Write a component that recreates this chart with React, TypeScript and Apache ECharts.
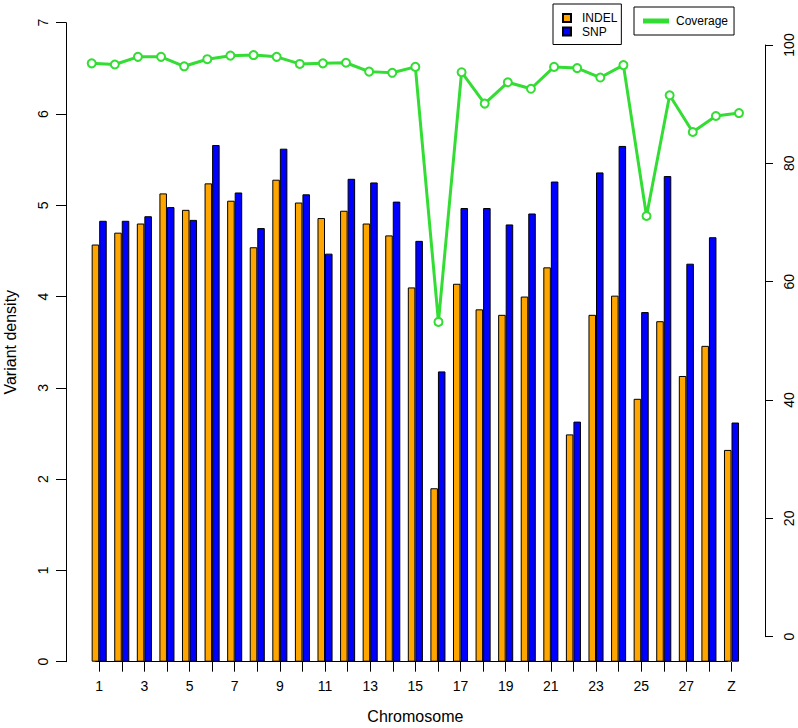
import React, { useEffect, useRef } from "react";
import * as echarts from "echarts";

const chromosomes = [
  "1", "2", "3", "4", "5", "6", "7", "8", "9", "10",
  "11", "12", "13", "14", "15", "16", "17", "18", "19", "20",
  "21", "22", "23", "24", "25", "26", "27", "28", "Z",
];

const indelDensity = [
  4.57, 4.70, 4.80, 5.13, 4.95, 5.24, 5.05, 4.54, 5.28, 5.03,
  4.86, 4.94, 4.80, 4.67, 4.10, 1.90, 4.14, 3.86, 3.80, 4.00,
  4.32, 2.49, 3.80, 4.01, 2.88, 3.73, 3.13, 3.46, 2.32,
];

const snpDensity = [
  4.83, 4.83, 4.88, 4.98, 4.84, 5.66, 5.14, 4.75, 5.62, 5.12,
  4.47, 5.29, 5.25, 5.04, 4.61, 3.18, 4.97, 4.97, 4.79, 4.91,
  5.26, 2.63, 5.36, 5.65, 3.83, 5.32, 4.36, 4.65, 2.62,
];

const coverage = [
  96.9, 96.7, 98.0, 98.0, 96.4, 97.6, 98.2, 98.3, 98.0, 96.8,
  96.9, 97.0, 95.5, 95.3, 96.3, 53.2, 95.4, 90.1, 93.7, 92.6,
  96.3, 96.1, 94.5, 96.6, 71.1, 91.5, 85.3, 88.0, 88.5,
];

const FONT = "'Liberation Sans', Arial, Helvetica, sans-serif";
const GREEN = "#33dd33";

export default function App() {
  const ref = useRef<HTMLDivElement>(null);

  useEffect(() => {
    if (!ref.current) return;
    const chart = echarts.init(ref.current, undefined, { renderer: "svg" });
    const axisText = { color: "#000", fontFamily: FONT, fontSize: 14 };
    const titleText = { color: "#000", fontFamily: FONT, fontSize: 16 };
    chart.setOption({
      animation: false,
      backgroundColor: "#fff",
      textStyle: { fontFamily: FONT },
      grid: [
        { left: 87.9, top: 22.7, width: 654.9, height: 639, containLabel: false, outerBoundsMode: "none" },
        { left: 91.7, top: 45, width: 647.3, height: 591.7, containLabel: false, outerBoundsMode: "none" },
      ],
      legend: [
        {
          data: [{ name: "INDEL" }, { name: "SNP" }],
          orient: "vertical",
          left: 553,
          top: 4,
          icon: "rect",
          borderColor: "#000",
          borderWidth: 1,
          borderRadius: 0,
          padding: [8, 4, 7, 9],
          itemWidth: 8,
          itemHeight: 8,
          itemGap: 1.5,
          textStyle: { color: "#000", fontSize: 12, fontFamily: FONT, padding: [0, 0, 0, 6] },
        },
        {
          data: [{ name: "Coverage", icon: "rect" }],
          left: 634,
          top: 7,
          borderColor: "#000",
          borderWidth: 1,
          borderRadius: 0,
          padding: [8, 6, 8, 9],
          itemWidth: 24,
          itemHeight: 3,
          textStyle: { color: "#000", fontSize: 12, fontFamily: FONT, padding: [0, 0, 0, 3] },
        },
      ],
      xAxis: [
        {
          type: "category",
          gridIndex: 0,
          data: chromosomes,
          axisLine: { show: false },
          axisTick: {
            show: true,
            alignWithLabel: true,
            interval: 0,
            length: 10,
            lineStyle: { color: "#000", width: 1 },
          },
          axisLabel: { ...axisText, interval: 1, margin: 17 },
          name: "Chromosome",
          nameLocation: "middle",
          nameGap: 47,
          nameTextStyle: titleText,
        },
        {
          type: "category",
          gridIndex: 1,
          data: chromosomes,
          boundaryGap: false,
          show: false,
        },
      ],
      yAxis: [
        {
          type: "value",
          gridIndex: 0,
          position: "left",
          offset: 21.9,
          min: 0,
          max: 7,
          interval: 1,
          axisLine: { show: true, lineStyle: { color: "#000", width: 1 } },
          axisTick: { show: true, length: 10, lineStyle: { color: "#000", width: 1 } },
          axisLabel: { ...axisText, rotate: 90, margin: 16 },
          splitLine: { show: false },
          name: "Variant density",
          nameLocation: "middle",
          nameGap: 48,
          nameTextStyle: titleText,
        },
        {
          type: "value",
          gridIndex: 1,
          position: "right",
          offset: 26,
          min: 0,
          max: 100,
          interval: 20,
          axisLine: { show: true, lineStyle: { color: "#000", width: 1 } },
          axisTick: { show: true, length: 8, lineStyle: { color: "#000", width: 1 } },
          axisLabel: { ...axisText, rotate: 90, margin: 17 },
          splitLine: { show: false },
        },
      ],
      series: [
        {
          name: "INDEL",
          type: "bar",
          xAxisIndex: 0,
          yAxisIndex: 0,
          data: indelDensity,
          barWidth: 7.53,
          barGap: "0%",
          itemStyle: { color: "#FFA500", borderColor: "#000", borderWidth: 1 },
          markLine: {
            silent: true,
            symbol: ["none", "none"],
            label: { show: false },
            lineStyle: { color: "#000", type: "solid", width: 1 },
            data: [
              [
                { xAxis: chromosomes[0], yAxis: 0 },
                { xAxis: chromosomes[chromosomes.length - 1], yAxis: 0 },
              ],
            ],
          },
        },
        {
          name: "SNP",
          type: "bar",
          xAxisIndex: 0,
          yAxisIndex: 0,
          data: snpDensity,
          barWidth: 7.53,
          barGap: "0%",
          itemStyle: { color: "#0000FF", borderColor: "#000", borderWidth: 1 },
        },
        {
          name: "Coverage",
          type: "line",
          xAxisIndex: 1,
          yAxisIndex: 1,
          data: coverage,
          symbol: "emptyCircle",
          symbolSize: 8,
          lineStyle: { color: GREEN, width: 3 },
          itemStyle: { color: GREEN, borderColor: GREEN, borderWidth: 2 },
        },
      ],
    });
    return () => chart.dispose();
  }, []);

  return (
    <div
      ref={ref}
      style={{ position: "fixed", left: 0, top: 0, width: 798, height: 728, background: "#fff" }}
    />
  );
}
